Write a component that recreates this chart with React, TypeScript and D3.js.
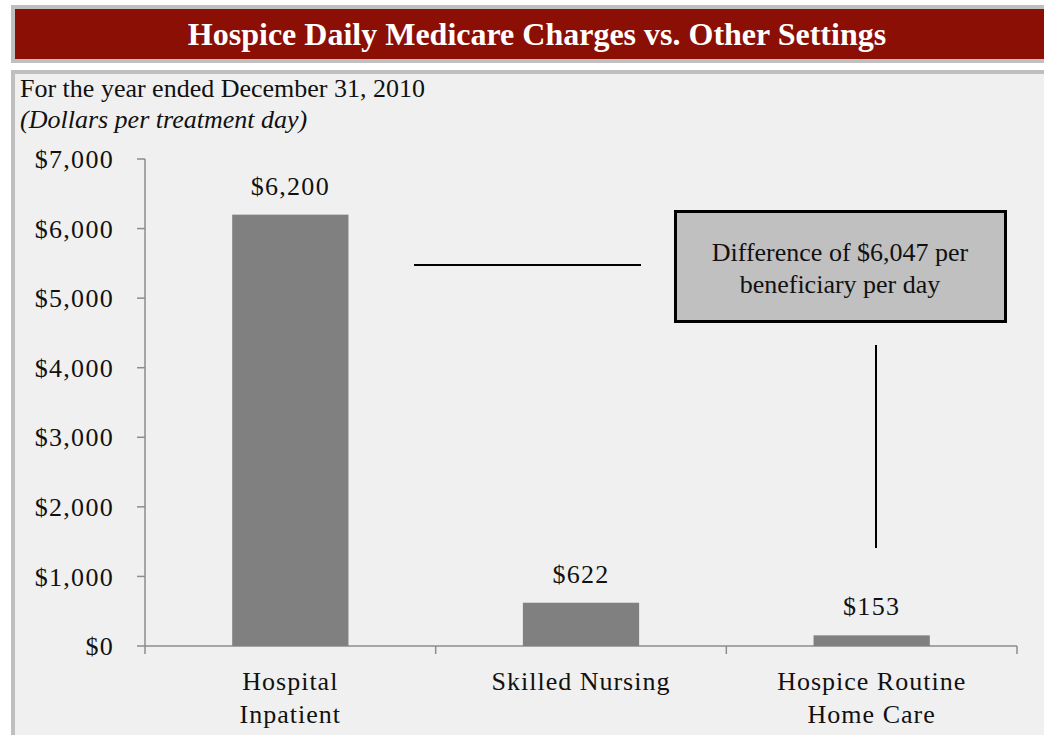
import React from "react";
import * as d3 from "d3";

const categories = [["Hospital", "Inpatient"], ["Skilled Nursing"], ["Hospice Routine", "Home Care"]];
const values = [6200, 622, 153];
const valueLabels = ["$6,200", "$622", "$153"];
const yTicks = [0, 1000, 2000, 3000, 4000, 5000, 6000, 7000];

const W = 1044;
const H = 735;
const FONT = "'Liberation Serif', 'Times New Roman', serif";

export default function App() {
  const x = d3.scaleBand<number>().domain(d3.range(categories.length)).range([145, 1017]).paddingInner(0).paddingOuter(0);
  const y = d3.scaleLinear().domain([0, 7000]).range([646, 159]);
  const barW = x.bandwidth() * 0.4;
  const fmt = (v: number) => "$" + d3.format(",")(v);
  const axisColor = "#8c8c8c";
  const FS = 26;

  return (
    <svg width={W} height={H} style={{ position: "absolute", left: 0, top: 0 }} fontFamily={FONT}>
      <rect x={0} y={0} width={W} height={H} fill="#ffffff" />
      {/* title bar */}
      <rect x={11} y={5} width={W} height={58} fill="#bfbfbf" />
      <rect x={15} y={9} width={W} height={50} fill="#8b0f04" />
      <text x={537} y={45} textAnchor="middle" fill="#ffffff" fontWeight="bold" fontSize={32}>
        Hospice Daily Medicare Charges vs. Other Settings
      </text>
      {/* panel */}
      <rect x={11} y={70} width={W} height={H} fill="#bfbfbf" />
      <rect x={15} y={74} width={W} height={H} fill="#f0f0f0" />
      <text x={20} y={97} fontSize={FS} fill="#111">For the year ended December 31, 2010</text>
      <text x={20} y={128} fontSize={FS} fontStyle="italic" fill="#111">(Dollars per treatment day)</text>

      {/* y axis */}
      <line x1={145} x2={145} y1={y(7000)} y2={y(0)} stroke={axisColor} strokeWidth={1.5} />
      {yTicks.map((t) => (
        <g key={t}>
          <line x1={137} x2={145} y1={y(t)} y2={y(t)} stroke={axisColor} strokeWidth={1.5} />
          <text x={114} y={y(t)} dy="0.35em" textAnchor="end" fontSize={FS} letterSpacing={1.3} fill="#111">
            {fmt(t)}
          </text>
        </g>
      ))}
      {/* x axis */}
      <line x1={145} x2={1017} y1={y(0)} y2={y(0)} stroke={axisColor} strokeWidth={1.5} />
      {d3.range(categories.length + 1).map((i) => {
        const xx = 145 + i * x.step();
        return <line key={i} x1={xx} x2={xx} y1={y(0)} y2={y(0) + 8} stroke={axisColor} strokeWidth={1.5} />;
      })}

      {/* bars */}
      {values.map((v, i) => {
        const cx = (x(i) as number) + x.bandwidth() / 2;
        return (
          <g key={i}>
            <rect x={cx - barW / 2} y={y(v)} width={barW} height={y(0) - y(v)} fill="#808080" />
            <text x={cx} y={y(v) - 20} textAnchor="middle" fontSize={FS} letterSpacing={1.3} fill="#111">
              {valueLabels[i]}
            </text>
            {categories[i].map((line, j) => (
              <text key={j} x={cx} y={690 + j * 33} textAnchor="middle" fontSize={FS} letterSpacing={1} fill="#111">
                {line}
              </text>
            ))}
          </g>
        );
      })}

      {/* annotations */}
      <line x1={414} x2={641} y1={265} y2={265} stroke="#000" strokeWidth={2} />
      <rect x={675.5} y={211.5} width={330} height={110} fill="#c0c0c0" stroke="#000" strokeWidth={3} />
      <text x={840} y={261} textAnchor="middle" fontSize={FS} fill="#111">Difference of $6,047 per</text>
      <text x={840} y={293} textAnchor="middle" fontSize={FS} fill="#111">beneficiary per day</text>
      <line x1={876} x2={876} y1={345} y2={548} stroke="#000" strokeWidth={2} />
    </svg>
  );
}
